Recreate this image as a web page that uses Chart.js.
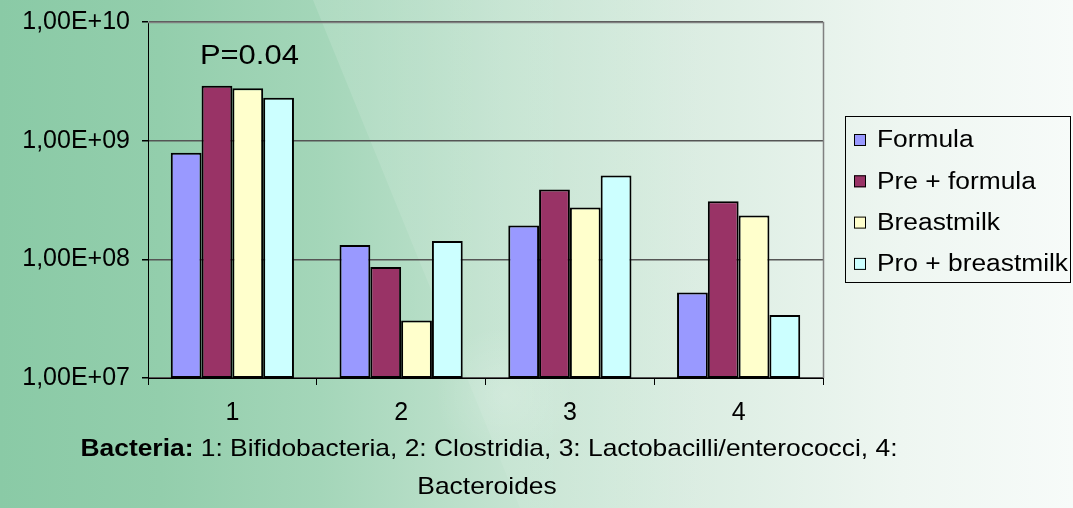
<!DOCTYPE html>
<html>
<head>
<meta charset="utf-8">
<title>Bacteria counts by feeding group</title>
<script src="https://cdn.jsdelivr.net/npm/chart.js@4.4.1/dist/chart.umd.min.js"></script>
<style>
  html, body { margin: 0; padding: 0; background: #ffffff; }
  #wrap { width: 1073px; height: 508px; }
</style>
</head>
<body>
<div id="wrap"><canvas id="c" width="1073" height="508"></canvas></div>
<script>
// Categories (bacteria groups) and counts per feeding group
const categories = ['1', '2', '3', '4'];
const formula        = [7.9e8, 1.32e8, 1.93e8, 5.25e7];
const preFormula     = [2.9e9, 8.6e7,  3.87e8, 3.09e8];
const breastmilk     = [2.77e9, 3.05e7, 2.73e8, 2.34e8];
const proBreastmilk  = [2.3e9, 1.43e8, 5.08e8, 3.4e7];
const seriesNames = ['Formula', 'Pre + formula', 'Breastmilk', 'Pro + breastmilk'];
const yTickValues = [1e7, 1e8, 1e9, 1e10];
const yTickLabels = ['1,00E+07', '1,00E+08', '1,00E+09', '1,00E+10'];
const annotationText = 'P=0.04';
const captionBold = 'Bacteria:';
const captionRest = ' 1: Bifidobacteria, 2: Clostridia, 3: Lactobacilli/enterococci, 4:';
const captionLine2 = 'Bacteroides';

const FONT = '"Liberation Sans", Arial, sans-serif';
const colors = ['#9999ff', '#993366', '#ffffcc', '#ccffff'];

// Slide-style green backdrop with a lighter diagonal panel
const backdrop = {
  id: 'backdrop',
  beforeDraw(chart) {
    const { ctx, width, height } = chart;
    ctx.save();
    const g = ctx.createLinearGradient(0, 0, width, 0);
    g.addColorStop(0.00, '#8acaa6');
    g.addColorStop(0.15, '#93ceac');
    g.addColorStop(0.30, '#a4d6b9');
    g.addColorStop(0.47, '#c3e3d0');
    g.addColorStop(0.65, '#dbede2');
    g.addColorStop(0.84, '#eef6f1');
    g.addColorStop(1.00, '#f7fbf9');
    ctx.fillStyle = g;
    ctx.fillRect(0, 0, width, height);
    // lighter diagonal panel
    ctx.beginPath();
    ctx.moveTo(313, 0);
    ctx.lineTo(width, 0);
    ctx.lineTo(width, height);
    ctx.lineTo(520, height);
    ctx.closePath();
    const g2 = ctx.createLinearGradient(313, 0, 760, 0);
    g2.addColorStop(0, 'rgba(255,255,255,0.13)');
    g2.addColorStop(1, 'rgba(255,255,255,0.0)');
    ctx.fillStyle = g2;
    ctx.fill();
    // faint light patch under the axis
    const rg = ctx.createRadialGradient(505, 395, 0, 505, 395, 70);
    rg.addColorStop(0, 'rgba(255,255,255,0.18)');
    rg.addColorStop(1, 'rgba(255,255,255,0)');
    ctx.fillStyle = rg;
    ctx.fillRect(420, 330, 180, 130);
    ctx.restore();
  }
};

// Draw text squeezed or stretched horizontally to a given width
function fitText(ctx, text, x, y, sx) {
  ctx.save();
  ctx.translate(x, y);
  ctx.scale(sx, 1);
  ctx.fillText(text, 0, 0);
  ctx.restore();
}

// Plot frame, annotation, legend and caption
const extras = {
  id: 'extras',
  afterDraw(chart) {
    const { ctx, chartArea } = chart;
    const xs = chart.scales.x;
    ctx.save();
    // grey frame on top and right of the plot
    ctx.strokeStyle = '#808080';
    ctx.lineWidth = 1.5;
    ctx.beginPath();
    ctx.moveTo(chartArea.left, chartArea.top + 0.5);
    ctx.lineTo(chartArea.right + 0.5, chartArea.top + 0.5);
    ctx.lineTo(chartArea.right + 0.5, chartArea.bottom);
    ctx.stroke();

    // significance label over the first group
    ctx.fillStyle = '#000';
    ctx.font = '28px ' + FONT;
    ctx.textAlign = 'center';
    ctx.textBaseline = 'middle';
    const pw = ctx.measureText(annotationText).width;
    fitText(ctx, annotationText, xs.getPixelForValue(0) + 17, 56, 99 / pw);

    // legend
    const lx = 845.5, ly = 116.5, lw = 225, lh = 166;
    ctx.strokeStyle = '#000';
    ctx.lineWidth = 1;
    ctx.strokeRect(lx, ly, lw, lh);
    ctx.font = '23px ' + FONT;
    ctx.textAlign = 'left';
    const lsx = 191 / ctx.measureText(seriesNames[3]).width;
    chart.data.datasets.forEach((ds, i) => {
      const cy = 140 + i * 41.3;
      ctx.fillStyle = ds.backgroundColor;
      ctx.fillRect(854, cy - 6, 12, 12);
      ctx.strokeRect(854.5, cy - 5.5, 11, 11);
      ctx.fillStyle = '#000';
      fitText(ctx, ds.label, 877, cy + 1, lsx);
    });

    // caption under the axis
    const boldFont = 'bold 24px ' + FONT;
    const normFont = '24px ' + FONT;
    ctx.font = boldFont;
    const wb = ctx.measureText(captionBold).width;
    ctx.font = normFont;
    const wr = ctx.measureText(captionRest).width;
    const target = 817;
    const sx = target / (wb + wr);
    ctx.save();
    ctx.translate(489 - target / 2, 449);
    ctx.scale(sx, 1);
    ctx.font = boldFont;
    ctx.fillText(captionBold, 0, 0);
    ctx.font = normFont;
    ctx.fillText(captionRest, wb, 0);
    ctx.restore();
    ctx.font = normFont;
    ctx.textAlign = 'center';
    fitText(ctx, captionLine2, 487, 487, sx);
    ctx.restore();
  }
};

const seriesData = [formula, preFormula, breastmilk, proBreastmilk];

new Chart(document.getElementById('c'), {
  type: 'bar',
  data: {
    labels: categories,
    datasets: seriesData.map((d, i) => ({
      label: seriesNames[i],
      data: d,
      backgroundColor: colors[i],
      borderColor: '#000',
      borderWidth: 2,
      borderSkipped: false,
      categoryPercentage: 0.73,
      barPercentage: 1.0
    }))
  },
  options: {
    responsive: false,
    animation: false,
    layout: { padding: { left: 0, top: 22, right: 250, bottom: 0 } },
    plugins: {
      legend: { display: false },
      tooltip: { enabled: false }
    },
    scales: {
      x: {
        grid: {
          offset: true,
          drawOnChartArea: false,
          drawTicks: true,
          tickLength: 7,
          color: '#000'
        },
        border: { display: true, color: '#000', width: 1 },
        ticks: {
          color: '#000',
          font: { family: FONT, size: 25 },
          padding: 13
        },
        afterFit(scale) {
          scale.height = 130;
          scale.paddingLeft = 0;
          scale.paddingRight = 0;
        }
      },
      y: {
        type: 'logarithmic',
        min: yTickValues[0],
        max: yTickValues[yTickValues.length - 1],
        afterBuildTicks(scale) {
          scale.ticks = yTickValues.map(v => ({ value: v }));
        },
        grid: {
          color: '#555555',
          lineWidth: 1.5,
          drawTicks: true,
          tickLength: 6,
          tickColor: '#000'
        },
        border: { display: true, color: '#000', width: 1 },
        ticks: {
          color: '#000',
          font: { family: FONT, size: 25 },
          padding: 12,
          autoSkip: false,
          callback(value, index) { return yTickLabels[index]; }
        },
        afterFit(scale) {
          scale.width = 148;
          scale.paddingTop = 0;
          scale.paddingBottom = 0;
        }
      }
    }
  },
  plugins: [backdrop, extras]
});
</script>
</body>
</html>
